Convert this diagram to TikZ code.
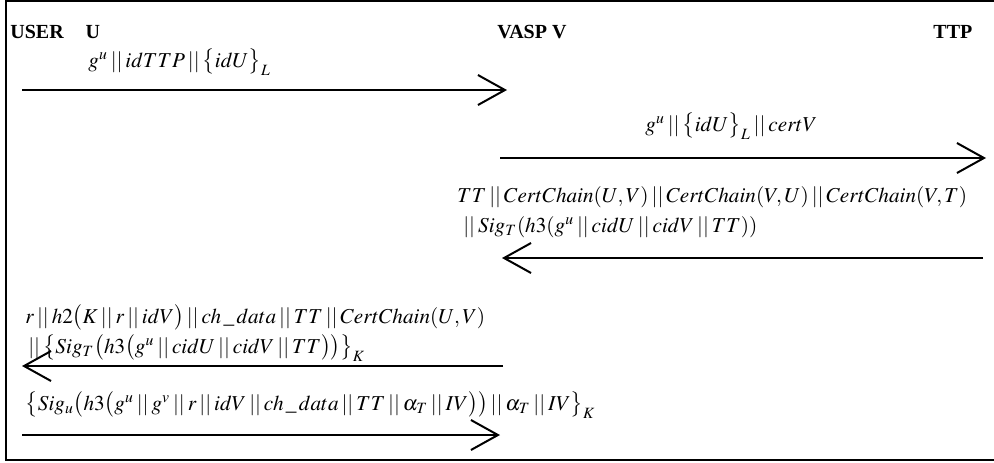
\documentclass[tikz,border=0pt]{standalone}
\usepackage{mathptmx}
\usepackage{fontspec}
\setmainfont{Liberation Serif}
\usetikzlibrary{arrows.meta}
\newdimen\pcunit
\setlength{\pcunit}{0.5pt}
\tikzstyle{pcpartystyle}=[anchor=base west,inner sep=0pt,font=\fontsize{10}{12}\selectfont\bfseries]
\tikzstyle{pcmsgstyle}=[anchor=base west,inner sep=0pt,font=\fontsize{10.6}{12}\selectfont]
\tikzstyle{pcarrowstyle}=[line width=1pt,-{Straight Barb[length=13.5pt,width=15pt,line width=1pt]}]
\newcommand{\conc}{\mathbin{||}}
\newcommand{\pcparty}[4]{ \node [style=pcpartystyle] (#1) at (#2\pcunit,-#3\pcunit) {#4}; }
\newcommand{\pcmsg}[4]{ \node [style=pcmsgstyle] (#1) at (#2\pcunit,-#3\pcunit) {$#4$}; }
\newcommand{\pcarrow}[4]{ \coordinate (#1from) at (#2\pcunit,-#4\pcunit); \coordinate (#1to) at (#3\pcunit,-#4\pcunit); \draw [style=pcarrowstyle] (#1from) -- (#1to); }

\begin{document}
\begin{tikzpicture}
\useasboundingbox (0,0) rectangle (994\pcunit,-462\pcunit);
\draw [line width=1pt] (1000\pcunit,-1\pcunit) -- (6\pcunit,-1\pcunit) -- (6\pcunit,-460\pcunit) -- (1000\pcunit,-460\pcunit);

\pcparty{user}{10}{38}{USER\hspace{1.1em}U} %
\pcparty{vasp}{497}{38}{VASP V} %
\pcparty{ttp}{933}{38}{TTP} %

\pcmsg{msgA}{88}{67}{g^{u}\conc idTTP\conc \bigl\{idU\bigr\}_{L}} %
\pcarrow{arrA}{22}{507}{90} %

\pcmsg{msgB}{645}{131}{g^{u}\conc \bigl\{idU\bigr\}_{L}\conc certV} %
\pcarrow{arrB}{500}{986}{158} %

\pcmsg{msgCa}{457}{202}{TT\conc CertChain(U,V)\conc CertChain(V,U)\conc CertChain(V,T)} %
\pcmsg{msgCb}{460}{232}{{}\conc Sig_{T}(h3(g^{u}\conc cidU\conc cidV\conc TT))} %
\pcarrow{arrC}{983}{502}{258} %

\pcmsg{msgDa}{25}{323}{r\conc h2\bigl(K\conc r\conc idV\bigr)\conc ch\,\_\,data\conc TT\conc CertChain(U,V)} %
\pcmsg{msgDb}{25}{353}{{}\conc \bigl\{Sig_{T}\bigl(h3\bigl(g^{u}\conc cidU\conc cidV\conc TT\bigr)\bigr)\bigr\}_{K}} %
\pcarrow{arrD}{503}{22}{366} %

\pcmsg{msgE}{25}{410}{\bigl\{Sig_{u}\bigl(h3\bigl(g^{u}\conc g^{v}\conc r\conc idV\conc ch\,\_\,data\conc TT\conc \alpha_{T}\conc IV\bigr)\bigr)\conc \alpha_{T}\conc IV\bigr\}_{K}} %
\pcarrow{arrE}{22}{500}{435} %
\end{tikzpicture}
\end{document}
